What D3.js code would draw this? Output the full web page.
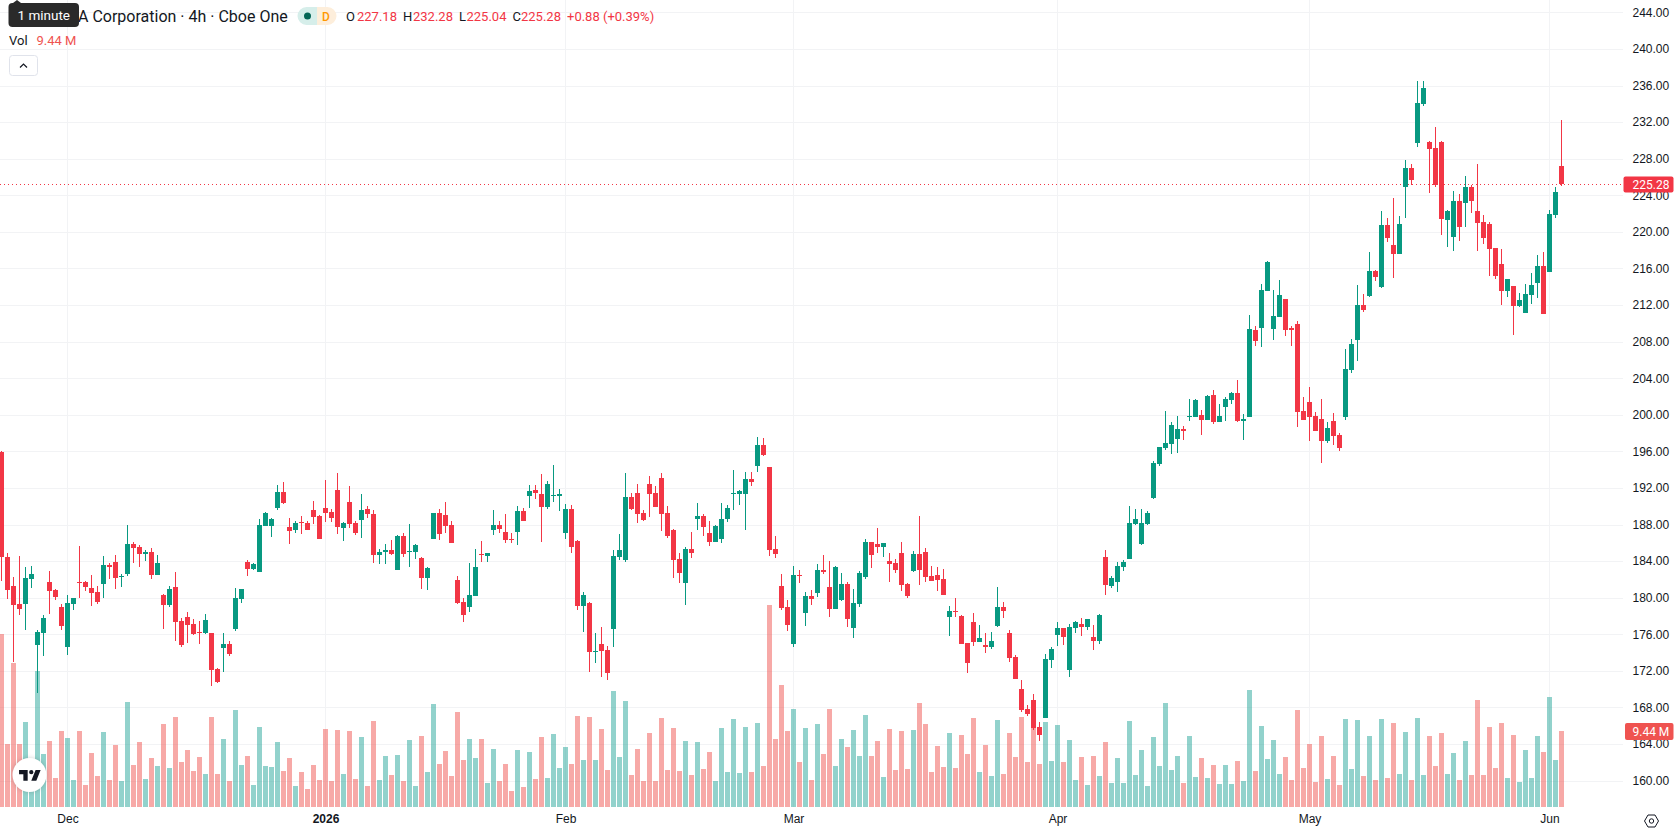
<!DOCTYPE html>
<html>
<head>
<meta charset="utf-8">
<title>Cboe One 4h chart</title>
<script src="https://cdn.jsdelivr.net/npm/d3@7"></script>
<style>
  html, body { margin: 0; padding: 0; background: #fff; overflow: hidden; }
  svg { display: block; font-family: Roboto, "Noto Sans", sans-serif; }
</style>
</head>
<body>
<svg id="chart" width="1678" height="835"></svg>
<script>
// Session data, oldest first
const opens = [
195.93,184.45,181.27,179.31,179.34,182.08,174.86,176.17,181.71,180.84,
178.98,174.64,179.34,181.68,181.71,181.06,180.62,181.53,183.57,183.90,
182.30,182.62,185.87,185.54,184.81,184.99,182.51,180.29,179.23,181.17,
177.45,177.88,177.12,176.24,176.17,176.14,172.20,174.53,174.93,176.61,
179.89,183.90,183.17,182.84,187.87,187.87,189.84,191.55,187.73,187.40,
188.27,188.16,189.59,188.93,189.80,189.37,191.77,187.62,190.46,188.16,
188.49,189.69,189.15,184.66,184.99,185.21,183.02,186.74,184.99,184.99,
184.34,182.15,186.41,189.26,189.04,187.95,181.93,179.53,178.98,180.18,
184.77,184.56,187.40,187.95,187.18,186.41,187.18,189.48,191.12,191.77,
191.33,189.91,191.12,191.12,187.07,189.70,186.20,179.09,179.42,174.06,
174.94,174.28,176.58,184.45,184.12,191.01,191.45,189.26,192.43,191.45,
193.09,189.26,187.40,184.23,181.61,185.32,188.60,188.93,187.07,186.09,
186.42,188.61,191.34,191.34,191.34,192.98,194.40,196.70,194.29,185.32,
181.28,178.98,174.94,182.48,178.33,180.18,180.51,183.02,181.16,178.76,
179.74,181.49,176.68,179.30,182.26,186.08,185.86,185.54,184.01,183.79,
184.88,181.49,182.91,184.77,184.99,182.37,182.48,182.04,177.88,178.54,
177.99,175.04,177.34,175.15,174.82,174.60,176.90,178.98,176.13,173.51,
170.01,167.82,168.81,165.85,166.84,173.18,175.91,176.68,172.09,176.68,
177.12,176.79,175.70,175.26,184.45,181.28,181.71,183.35,184.23,188.06,
185.87,188.06,190.90,194.62,196.37,196.80,197.35,198.44,199.76,199.76,
199.98,199.43,202.16,199.21,200.85,201.62,202.38,199.32,199.75,209.27,
209.49,213.53,209.38,210.69,212.66,209.49,209.93,200.41,201.40,199.87,
199.53,197.13,199.32,197.78,199.75,204.90,208.18,212.00,212.99,215.72,
213.97,220.75,218.56,217.58,224.91,226.98,229.72,233.98,229.83,229.17,
229.83,221.30,219.44,223.38,223.16,224.91,222.28,221.08,220.86,218.24,
216.49,213.53,214.08,211.89,211.13,213.10,214.41,216.27,215.61,221.84,227.18];

const closes = [
184.48,180.87,179.23,178.80,182.15,182.59,176.24,177.78,180.76,180.11,
176.94,179.42,179.96,181.60,181.20,180.55,179.56,183.57,183.35,182.19,
182.37,185.87,185.47,184.77,184.99,182.51,183.79,179.23,180.95,177.37,
174.86,177.05,176.06,176.17,177.56,172.13,170.81,174.93,173.88,179.96,
180.95,183.17,183.68,187.95,189.26,188.60,191.55,190.39,187.29,188.16,
188.16,187.40,188.82,186.41,189.26,188.71,187.73,188.16,188.05,187.07,
189.59,189.15,184.66,184.99,185.21,184.77,186.74,184.77,185.10,185.76,
182.15,183.24,189.26,186.96,187.84,185.98,179.42,178.10,180.29,183.35,
184.66,184.88,187.95,187.51,186.31,186.31,189.48,188.38,191.66,191.44,
189.91,192.43,191.23,191.34,189.70,185.54,179.09,180.29,174.06,174.17,
174.17,171.76,184.56,185.21,191.01,189.70,189.15,188.50,191.34,189.92,
189.15,186.75,184.12,182.70,185.32,184.89,188.93,187.73,186.09,187.84,
188.61,189.81,191.45,191.67,192.98,192.65,196.70,195.60,185.21,184.78,
178.87,177.01,182.48,182.37,180.18,179.86,183.03,182.80,178.76,183.35,
181.49,177.66,179.41,182.69,186.08,184.66,185.54,185.97,183.68,183.02,
181.38,180.18,184.77,183.02,182.26,181.82,181.93,180.29,178.54,178.43,
174.93,172.85,175.15,175.59,174.60,175.26,178.98,178.54,173.40,171.10,
167.71,167.28,165.75,164.98,173.29,174.38,176.68,175.70,176.79,177.34,
176.79,177.66,175.26,178.10,181.39,182.15,183.46,183.90,188.17,188.60,
188.17,189.26,194.73,196.48,196.91,198.88,198.44,198.23,199.87,201.62,
199.43,202.05,199.21,199.87,201.73,202.38,199.32,199.54,209.38,208.06,
213.64,216.70,210.80,213.10,209.27,209.27,200.30,199.43,199.76,198.23,
197.13,198.55,197.67,196.36,205.00,207.74,212.00,211.46,215.72,215.06,
220.75,219.33,217.58,220.86,226.98,225.67,234.09,235.73,229.06,225.12,
221.41,222.28,223.38,220.53,224.91,223.38,220.97,219.33,218.13,215.17,
213.53,214.85,211.89,212.55,213.21,214.19,216.27,211.02,221.95,224.40,225.28];

const highs = [
196.00,184.88,182.26,184.56,183.35,183.46,176.46,178.10,182.92,180.95,
179.31,180.29,179.96,185.65,181.82,182.48,181.27,184.56,183.79,184.66,
182.59,187.95,186.09,185.76,185.21,185.43,184.66,180.40,181.27,182.81,
177.78,178.43,177.67,177.45,178.21,176.14,172.31,176.14,175.26,181.06,
180.95,184.12,183.79,188.60,189.37,188.71,192.32,192.65,188.71,188.38,
188.93,188.38,190.57,189.04,192.87,189.69,193.63,188.27,192.21,188.38,
191.33,190.02,189.59,185.32,185.87,186.31,186.85,187.07,188.05,185.87,
184.45,183.35,189.26,189.69,190.46,188.38,182.37,179.96,183.79,185.32,
186.20,184.88,189.59,188.38,189.15,187.07,190.02,189.80,192.32,192.32,
193.52,192.76,194.51,191.88,190.24,190.14,186.31,180.62,179.53,176.14,
176.79,174.72,185.21,186.96,193.63,191.45,192.43,189.59,193.31,192.21,
193.63,190.03,187.51,184.89,185.54,187.18,190.35,189.15,188.39,187.95,
190.35,190.14,193.96,191.78,193.74,193.74,197.57,197.46,194.29,186.75,
182.59,179.75,183.47,183.03,180.62,180.84,183.68,184.66,184.01,183.46,
182.69,181.71,180.95,182.91,186.41,186.08,187.61,185.97,184.88,184.22,
186.08,181.60,185.10,188.93,185.43,183.46,183.35,183.13,179.09,179.96,
178.10,175.04,178.32,177.01,176.13,176.24,181.16,179.52,176.46,173.73,
170.99,168.26,169.46,166.40,173.84,174.60,177.34,176.68,177.12,177.45,
177.77,177.66,176.98,178.21,185.21,182.37,183.90,184.12,190.03,189.70,
189.70,189.48,194.95,196.48,200.41,199.21,199.87,198.77,201.73,201.73,
200.52,202.16,202.71,201.18,201.95,202.49,203.80,200.09,210.91,209.70,
214.30,216.81,213.64,214.74,212.66,209.71,210.25,201.94,203.04,200.30,
201.72,199.21,200.19,198.00,207.19,208.28,214.19,213.21,217.80,215.83,
222.28,221.52,223.70,221.73,227.86,227.42,236.50,236.50,229.94,231.47,
229.94,222.39,224.47,224.14,226.11,225.12,227.42,221.84,221.08,218.24,
218.13,214.85,214.08,213.32,214.30,215.50,217.47,217.80,222.39,224.91,232.28];

const lows = [
181.86,179.89,172.96,178.14,176.50,181.09,169.61,173.66,178.25,179.78,
176.50,173.77,178.69,180.00,180.76,179.12,179.34,180.00,182.08,180.98,
181.20,182.40,183.83,183.39,184.04,182.08,182.51,176.61,179.01,175.30,
174.64,175.08,175.95,174.97,176.06,170.38,170.70,171.91,173.66,176.39,
179.45,182.40,183.06,182.84,187.87,186.67,189.62,190.28,185.87,187.07,
186.96,187.40,188.05,186.41,188.27,188.27,186.96,186.20,187.62,186.85,
186.52,188.71,183.79,183.68,183.68,184.66,183.02,184.45,183.35,184.23,
180.95,180.84,186.41,186.31,187.07,185.98,179.31,177.34,178.43,180.18,
183.90,183.90,186.85,187.07,185.98,185.98,185.76,188.38,189.80,190.79,
186.09,189.69,190.46,189.48,186.42,184.89,178.65,176.25,171.87,172.86,
171.33,171.00,174.61,184.12,183.90,189.59,188.17,188.39,188.82,189.92,
187.29,186.53,182.15,181.61,179.20,184.34,187.40,186.75,185.65,186.09,
185.98,188.28,189.59,190.14,187.40,192.21,193.74,195.49,184.56,184.34,
178.65,176.36,174.61,181.61,176.90,179.20,180.07,182.58,177.88,178.76,
179.63,176.79,175.59,178.98,182.04,183.24,184.88,184.44,181.71,182.69,
180.73,179.96,182.80,181.38,181.71,181.82,180.73,180.29,175.81,177.88,
174.93,171.76,174.71,175.15,173.95,174.38,176.79,177.77,172.96,171.10,
167.49,167.06,165.53,164.32,166.84,172.31,174.71,174.82,171.32,176.13,
175.80,176.46,174.27,174.93,180.29,181.06,180.62,182.92,184.23,187.95,
185.76,187.95,190.79,194.40,196.15,195.71,195.82,197.24,199.32,199.76,
197.79,199.43,198.99,199.21,199.32,201.18,199.21,197.24,199.75,207.52,
207.41,213.53,208.18,210.69,208.61,207.52,198.66,199.43,197.13,198.23,
194.72,196.91,196.69,196.03,199.40,204.60,205.90,211.24,212.88,214.63,
213.86,218.89,214.96,217.58,221.52,225.12,229.28,233.76,224.25,224.91,
219.66,218.35,217.91,219.00,220.53,222.06,217.91,218.67,215.17,214.85,
212.00,212.88,208.72,211.78,211.13,212.11,212.77,211.02,215.61,221.52,225.04];

// Volume per bar, in millions of shares
const volumes = [
21.49,7.83,17.89,7.83,10.56,3.77,16.89,6.58,8.20,3.60,
9.44,8.57,3.35,9.44,2.73,6.71,3.85,9.32,3.35,7.70,
3.23,13.04,5.22,8.07,3.48,6.09,5.09,10.31,4.84,11.18,
5.59,7.08,4.47,6.21,4.10,11.18,4.10,8.45,3.23,12.05,
5.22,6.34,2.73,9.94,5.09,4.97,8.07,4.47,6.09,2.61,
4.35,2.24,5.22,3.35,9.69,3.23,9.57,4.10,9.44,3.48,
8.70,2.61,10.68,3.35,6.34,3.98,6.46,3.23,8.32,2.61,
8.82,4.35,12.80,5.34,6.96,3.85,11.80,5.84,8.45,6.09,
8.45,2.98,7.20,3.23,5.34,1.99,7.08,2.48,6.83,3.48,
8.70,3.60,9.07,4.84,7.45,5.34,11.30,5.84,11.18,5.84,
9.69,4.60,14.41,6.21,13.17,3.98,7.20,3.23,9.19,3.23,
11.06,4.60,9.81,4.47,8.20,3.98,8.07,4.72,6.83,3.23,
9.81,4.35,10.93,4.22,9.94,4.35,10.43,5.09,25.09,8.45,
15.16,9.44,12.17,5.59,9.81,3.35,10.31,6.58,12.17,5.09,
8.45,7.45,9.57,6.34,11.43,6.34,8.20,3.73,9.69,4.60,
9.44,4.72,9.57,12.92,10.31,4.35,7.58,4.97,9.19,4.84,
8.94,6.58,11.06,4.35,7.70,3.85,10.81,4.10,9.19,6.21,
11.18,5.59,10.39,5.34,10.56,5.71,10.19,5.59,8.32,3.35,
6.21,2.73,6.34,3.85,8.07,2.98,6.09,2.98,10.68,3.98,
7.08,2.61,8.70,5.09,12.92,4.60,6.34,2.98,8.82,3.73,
6.09,3.60,5.22,2.86,5.22,2.86,5.71,3.23,14.53,4.47,
10.06,5.96,8.32,4.10,6.21,3.35,12.05,4.84,7.83,3.11,
8.82,3.48,6.34,2.73,10.93,4.72,10.81,3.85,8.82,3.35,
10.93,3.60,10.43,4.10,9.32,3.35,11.06,3.98,8.82,5.09,
9.19,4.10,6.71,3.35,8.20,3.98,13.29,3.98,9.94,4.84,
10.43,3.60,8.94,3.11,7.08,3.60,8.82,6.83,13.66,5.84,9.44];

// Time axis: bar index of each month label
const timeTickBars = [11, 54, 94, 132, 176, 218, 258];
const timeTickLabels = ["Dec", "2026", "Feb", "Mar", "Apr", "May", "Jun"];
const priceTicks = d3.range(160, 245, 4);

// Header text
const symbolTitle = "A Corporation · 4h · Cboe One";
const changeText = "+0.88 (+0.39%)";
const volumeLabel = "9.44 M";
const tooltipText = "1 minute";

[closes, highs, lows, volumes].forEach(a => {
  if (a.length !== opens.length) throw new Error("series length mismatch: " + a.length + " vs " + opens.length);
});

const UP = "#089981", DOWN = "#f23645";
const VOL_UP = "#26a69a", VOL_DOWN = "#ef5350";
const GRID = "#f2f3f5", INK = "#131722";
const PANE_RIGHT = 1623, PANE_BOTTOM = 807;

const last = opens.length - 1;
const bars = opens.map((o, i) => ({ i, o, c: closes[i], h: highs[i], l: lows[i], v: volumes[i], up: closes[i] >= o }));

const x = d3.scaleLinear().domain([0, last]).range([1.5, 1561.5]);
const y = d3.scaleLinear().domain([160, 244]).range([780.56, 12.38]);
const yVol = d3.scaleLinear().domain([0, 9.44]).range([PANE_BOTTOM, 731]);
const snap = v => Math.round(v);

const svg = d3.select("#chart");
svg.append("rect").attr("width", 1678).attr("height", 835).attr("fill", "#fff");

// Grid
const grid = svg.append("g").attr("shape-rendering", "crispEdges").attr("stroke", GRID);
grid.selectAll(".h").data(priceTicks).join("line")
  .attr("x1", 0).attr("x2", PANE_RIGHT)
  .attr("y1", d => snap(y(d)) + 0.5).attr("y2", d => snap(y(d)) + 0.5);
grid.selectAll(".v").data(timeTickBars).join("line")
  .attr("x1", d => x(d)).attr("x2", d => x(d))
  .attr("y1", 0).attr("y2", PANE_BOTTOM);

// Volume columns sit behind the candles
svg.append("g").attr("shape-rendering", "crispEdges").selectAll("rect").data(bars).join("rect")
  .attr("x", d => x(d.i) - 2.5).attr("width", 5)
  .attr("y", d => snap(yVol(d.v))).attr("height", d => PANE_BOTTOM - snap(yVol(d.v)))
  .attr("fill", d => d.up ? VOL_UP : VOL_DOWN).attr("fill-opacity", 0.5);

// Last price line
svg.append("line").attr("x1", 0).attr("x2", PANE_RIGHT)
  .attr("y1", snap(y(closes[last])) + 0.5).attr("y2", snap(y(closes[last])) + 0.5)
  .attr("stroke", DOWN).attr("stroke-dasharray", "1 3").attr("shape-rendering", "crispEdges");

// Candles
const candles = svg.append("g").attr("shape-rendering", "crispEdges");
candles.selectAll(".wick").data(bars).join("rect").attr("class", "wick")
  .attr("x", d => x(d.i) - 0.5).attr("width", 1)
  .attr("y", d => snap(y(d.h))).attr("height", d => Math.max(1, snap(y(d.l)) - snap(y(d.h))))
  .attr("fill", d => d.up ? UP : DOWN);
candles.selectAll(".body").data(bars).join("rect").attr("class", "body")
  .attr("x", d => x(d.i) - 2.5).attr("width", 5)
  .attr("y", d => snap(y(Math.max(d.o, d.c))))
  .attr("height", d => Math.max(1, snap(y(Math.min(d.o, d.c))) - snap(y(Math.max(d.o, d.c)))))
  .attr("fill", d => d.up ? UP : DOWN);

// Price axis
const priceAxis = d3.axisRight(y).tickValues(priceTicks).tickSize(0).tickPadding(0).tickFormat(d3.format(".2f"));
const priceG = svg.append("g").attr("transform", "translate(1632.5,0)").call(priceAxis);
priceG.select(".domain").remove();
priceG.selectAll("text").attr("font-size", 12).attr("fill", INK).attr("font-family", null);

// Time axis
const timeAxis = d3.axisBottom(x).tickValues(timeTickBars).tickSize(0).tickPadding(0)
  .tickFormat(d => timeTickLabels[timeTickBars.indexOf(d)]);
const timeG = svg.append("g").attr("transform", "translate(0,814)").call(timeAxis);
timeG.select(".domain").remove();
timeG.selectAll("text").attr("font-size", 12).attr("fill", INK).attr("font-family", null)
  .attr("font-weight", d => timeTickLabels[timeTickBars.indexOf(d)] === "2026" ? 700 : 400);

// Value tags on the price axis
function tag(cy, top, bottom, left, fill, label) {
  svg.append("rect").attr("x", left).attr("y", top).attr("width", 1673.5 - left).attr("height", bottom - top)
    .attr("rx", 2).attr("fill", fill);
  svg.append("text").attr("x", 1632.5).attr("y", cy).attr("dy", "0.35em")
    .attr("font-size", 12).attr("fill", "#fff").text(label);
}
tag(184.6, 176.5, 192.5, 1623.5, DOWN, d3.format(".2f")(closes[last]));
tag(731.5, 723, 740, 1625, VOL_DOWN, volumeLabel);

// Settings icon beside the time axis
const settings = svg.append("g").attr("transform", "translate(1651.5,821)")
  .attr("fill", "none").attr("stroke", INK);
settings.append("path").attr("d", "M-7,0 L-3.5,-6 L3.5,-6 L7,0 L3.5,6 L-3.5,6 Z").attr("stroke-linejoin", "round");
settings.append("circle").attr("r", 2.2);

// Vendor badge
const badge = svg.append("g");
badge.append("circle").attr("cx", 29.5).attr("cy", 775).attr("r", 17).attr("fill", "#fff")
  .style("filter", "drop-shadow(0 0 2px rgba(0,0,0,0.18))");
badge.append("path").attr("transform", "translate(17.6,765.7) scale(0.72)").attr("fill", "#131722")
  .attr("d", "M14 6H2v6h6v9h6V6Zm12 15h-7l6-15h7l-6 15Zm-7-9a3 3 0 1 0 0-6 3 3 0 0 0 0 6Z");

// Header: symbol, status pills, OHLC readout
const head = svg.append("g");
const label = (xp, yp, txt, fill, size = 13, anchor = "start") => head.append("text")
  .attr("x", xp).attr("y", yp).attr("dy", "0.35em").attr("font-size", size)
  .attr("fill", fill).attr("text-anchor", anchor).text(txt);

label(78, 16.5, symbolTitle, INK, 16);
head.append("path").attr("d", "M317,7 H306.5 A9,9 0 0 0 306.5,25 H317 Z").attr("fill", "#d6eeea");
head.append("path").attr("d", "M317,7 H327.5 A9,9 0 0 1 327.5,25 H317 Z").attr("fill", "#fdeedb");
head.append("circle").attr("cx", 307.5).attr("cy", 16).attr("r", 3.5).attr("fill", "#056656");
label(326, 16.5, "D", "#ff9800", 12, "middle").attr("font-weight", 500);

[["O", 346, opens[last], 357], ["H", 403, highs[last], 413], ["L", 459, lows[last], 466.5], ["C", 512.5, closes[last], 521]]
  .forEach(([k, kx, v, vx]) => {
    label(kx, 16.5, k, INK);
    label(vx, 16.5, d3.format(".2f")(v), DOWN);
  });
label(567, 16.5, changeText, DOWN);
label(9, 40.7, "Vol", INK);
label(36.5, 40.7, volumeLabel, VOL_DOWN);

head.append("rect").attr("x", 9.5).attr("y", 55.5).attr("width", 28).attr("height", 20).attr("rx", 3)
  .attr("fill", "#fff").attr("stroke", "#e0e3eb");
head.append("path").attr("d", "M20,67.5 L23.5,64 L27,67.5").attr("fill", "none").attr("stroke", INK).attr("stroke-width", 1.2);

// Hover tooltip over the symbol name
head.append("path").attr("d", "M13,3 L17,0 L21,3 Z").attr("fill", "#2a2a2a");
head.append("rect").attr("x", 8.5).attr("y", 3).attr("width", 70.5).attr("height", 24).attr("rx", 4).attr("fill", "#2a2a2a");
label(43.75, 15.5, tooltipText, "#fff", 13.5, "middle");
</script>
</body>
</html>
